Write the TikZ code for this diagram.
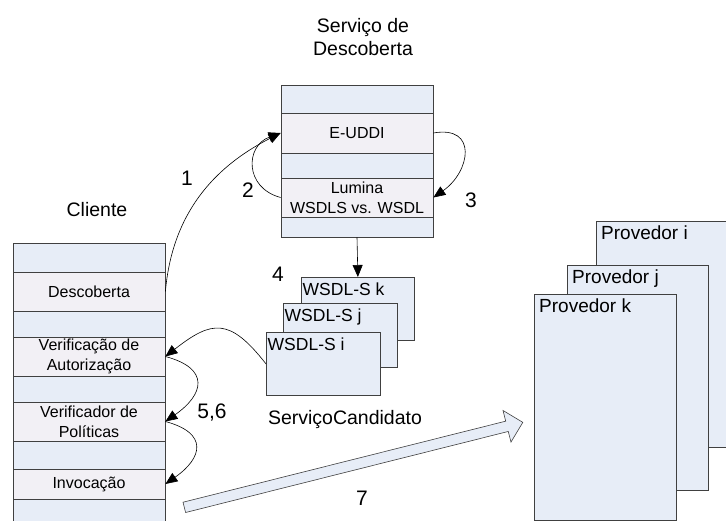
\documentclass[tikz,border=0pt]{standalone}
\usepackage{fontspec}
\setmainfont{Liberation Sans}
\usetikzlibrary{arrows.meta,shapes.arrows}
\definecolor{bandblue}{RGB}{231,237,247}
\definecolor{rowgray}{RGB}{242,240,245}
\definecolor{framegray}{RGB}{64,64,64}
\tikzset{
	band/.style={draw=framegray, fill=bandblue, line width=0.8pt, minimum width=152pt, inner sep=0pt},
	row/.style={band, fill=rowgray, align=center, font=\fontsize{16}{20}\selectfont},
	card/.style={draw=framegray, fill=bandblue, line width=0.8pt, inner sep=0pt, anchor=north west},
	cardtext/.style={anchor=north west, inner xsep=1.5pt, inner ysep=6pt, font=\fontsize{17.5}{20}\selectfont},
	provtext/.style={anchor=north west, inner xsep=5pt, inner ysep=5pt, font=\fontsize{19}{22}\selectfont},
	flow/.style={-{Triangle[length=12pt,width=10pt]}, line width=0.6pt},
	num/.style={font=\fontsize{21}{24}\selectfont},
	title/.style={font=\fontsize{19.5}{23}\selectfont, align=center}
}

\begin{document}
\begin{tikzpicture}[x=1pt, y=-1pt]
			%%%%% START %%%%%
			\useasboundingbox (0,0) rectangle (726,521);
			\clip (0,0) rectangle (726,521);
			
			\node[title] (tsrv) at (363,37) {Serviço de\\Descoberta};
			\node[title] (tcli) at (97,210) {Cliente};
			\node[title] (tcand) at (345,420) {ServiçoCandidato};
			
			\node[band, minimum height=28pt] (sb1) at (357,99) {};
			\node[row, minimum height=40pt] (eu) at (357,133) {E-UDDI};
			\node[band, minimum height=25pt] (sb2) at (357,165.5) {};
			\node[row, minimum height=39pt] (lum) at (357,197.5) {Lumina\\WSDLS vs. WSDL};
			\node[band, minimum height=20pt] (sb3) at (357,227) {};
			
			\node[band, minimum height=29pt] (cb1) at (89,257.5) {};
			\node[row, minimum height=39pt] (desc) at (89,291.5) {Descoberta};
			\node[band, minimum height=26pt] (cb2) at (89,324) {};
			\node[row, minimum height=39pt] (verif) at (89,356.5) {Verificação de\\Autorização};
			\node[band, minimum height=26pt] (cb3) at (89,389) {};
			\node[row, minimum height=39pt] (polit) at (89,421.5) {Verificador de\\Políticas};
			\node[band, minimum height=28pt] (cb4) at (89,455) {};
			\node[row, minimum height=30pt] (invoc) at (89,484) {Invocação};
			\node[band, minimum height=32pt] (cb5) at (89,515) {};
			
			\node[card, minimum width=113pt, minimum height=63pt, label={[cardtext]north west:WSDL-S k}] (wk) at (301,277) {};
			\node[card, minimum width=114pt, minimum height=64pt, label={[cardtext]north west:WSDL-S j}] (wj) at (283,303) {};
			\node[card, minimum width=114pt, minimum height=63pt, label={[cardtext]north west:WSDL-S i}] (wi) at (266,332) {};
			
			\node[card, minimum width=160pt, minimum height=226pt, label={[provtext]north west:Provedor i}] (pi) at (596,221) {};
			\node[card, minimum width=141pt, minimum height=225pt, label={[provtext]north west:Provedor j}] (pj) at (567,265) {};
			\node[card, minimum width=142pt, minimum height=226pt, label={[provtext]north west:Provedor k}] (pk) at (534,294) {};
			
			\draw[flow] (desc.east) to[out=85, in=207] (eu.west);
			\draw[flow] (lum.west) to[out=165, in=200, looseness=1.5] (eu.west);
			\draw[flow] (eu.east) to[out=10, in=35, looseness=1.8] (lum.east);
			\draw[flow] (sb3.south) -- (wk.north);
			\draw[flow] (wi.west) to[out=128, in=38, looseness=1.5] (verif.east);
			\draw[flow] (verif.east) to[out=-15, in=35, looseness=1.85] (polit.east);
			\draw[flow] (polit.east) to[out=-15, in=35, looseness=1.85] (invoc.east);
			
			\node[single arrow, draw=framegray, fill=bandblue, line width=0.6pt, inner sep=5pt, minimum width=0pt,
				single arrow head extend=11pt, minimum height=349pt, rotate=14.1] (a7) at (351,465.5) {};
			
			\node[num] (n1) at (187,178) {1};
			\node[num] (n2) at (248,190) {2};
			\node[num] (n3) at (471,200) {3};
			\node[num] (n4) at (278,274) {4};
			\node[num] (n56) at (212,413) {5,6};
			\node[num] (n7) at (362,498) {7};
			
			%%%%% END %%%%%
		\end{tikzpicture}
\end{document}
